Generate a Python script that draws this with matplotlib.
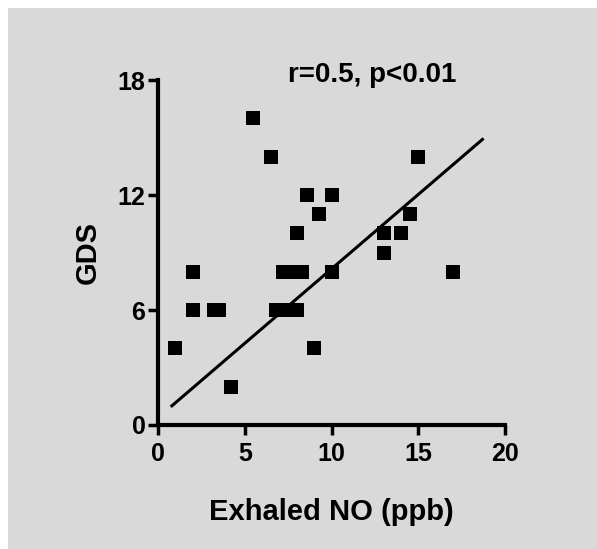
import numpy as np
import matplotlib.pyplot as plt
from matplotlib.patches import Rectangle

# data
no_ppb = [1, 2, 2, 3.2, 3.5, 4.2, 5.5, 6.5,
          6.8, 7.2, 7.6, 8.0,
          7.2, 7.6, 8.0, 8.3,
          8.0, 8.6, 9.3, 10, 9.0, 10,
          15, 14.5, 13, 14, 13, 17]
gds = [4, 8, 6, 6, 6, 2, 16, 14,
       6, 6, 6, 6,
       8, 8, 8, 8,
       10, 12, 11, 12, 4, 8,
       14, 11, 10, 10, 9, 8]
fit_x = [0.8, 18.7]
fit_y = [1.0, 14.9]
x_ticks = [0, 5, 10, 15, 20]
y_ticks = [0, 6, 12, 18]

plt.rcParams['font.family'] = ['Liberation Sans', 'DejaVu Sans']
plt.rcParams['font.weight'] = 'bold'

fig = plt.figure(figsize=(5.97, 5.49), dpi=100)
fig.patch.set_facecolor('white')
# grey panel (thin white strip on top and left)
fig.patches.append(Rectangle((8 / 597, 0), 1 - 8 / 597, 1 - 8 / 549,
                             transform=fig.transFigure, facecolor='#d9d9d9',
                             edgecolor='none', zorder=-10))

ax = fig.add_axes([158 / 597, 1 - 425 / 549, 347 / 597, 345 / 549])
ax.set_facecolor('none')
ax.set_zorder(1)

ax.plot(no_ppb, gds, 's', color='black', markersize=10, markeredgewidth=0, clip_on=False)
ax.plot(fit_x, fit_y, '-', color='black', linewidth=2.2)

ax.set_xlim(0, 20)
ax.set_ylim(0, 18)
ax.set_xticks(x_ticks)
ax.set_yticks(y_ticks)

for s in ['top', 'right']:
    ax.spines[s].set_visible(False)
for s in ['left', 'bottom']:
    ax.spines[s].set_linewidth(3)
ax.tick_params(axis='both', width=2.5, length=7, labelsize=18)
ax.tick_params(axis='x', pad=5)
ax.tick_params(axis='y', pad=2)
for lab in ax.get_xticklabels() + ax.get_yticklabels():
    lab.set_fontweight('bold')

ax.set_xlabel('Exhaled NO (ppb)', fontsize=21, fontweight='bold')
ax.set_ylabel('GDS', fontsize=21, fontweight='bold')
ax.xaxis.set_label_coords(0.5, -0.252)
ax.xaxis.label.set_va('center')
ax.yaxis.set_label_coords(-0.202, 0.5)
ax.yaxis.label.set_va('center')

ax.text(0.617, 1.014, 'r=0.5, p<0.01', transform=ax.transAxes, fontsize=20,
        fontweight='bold', ha='center', va='center')

fig.savefig('out.png', dpi=100)
